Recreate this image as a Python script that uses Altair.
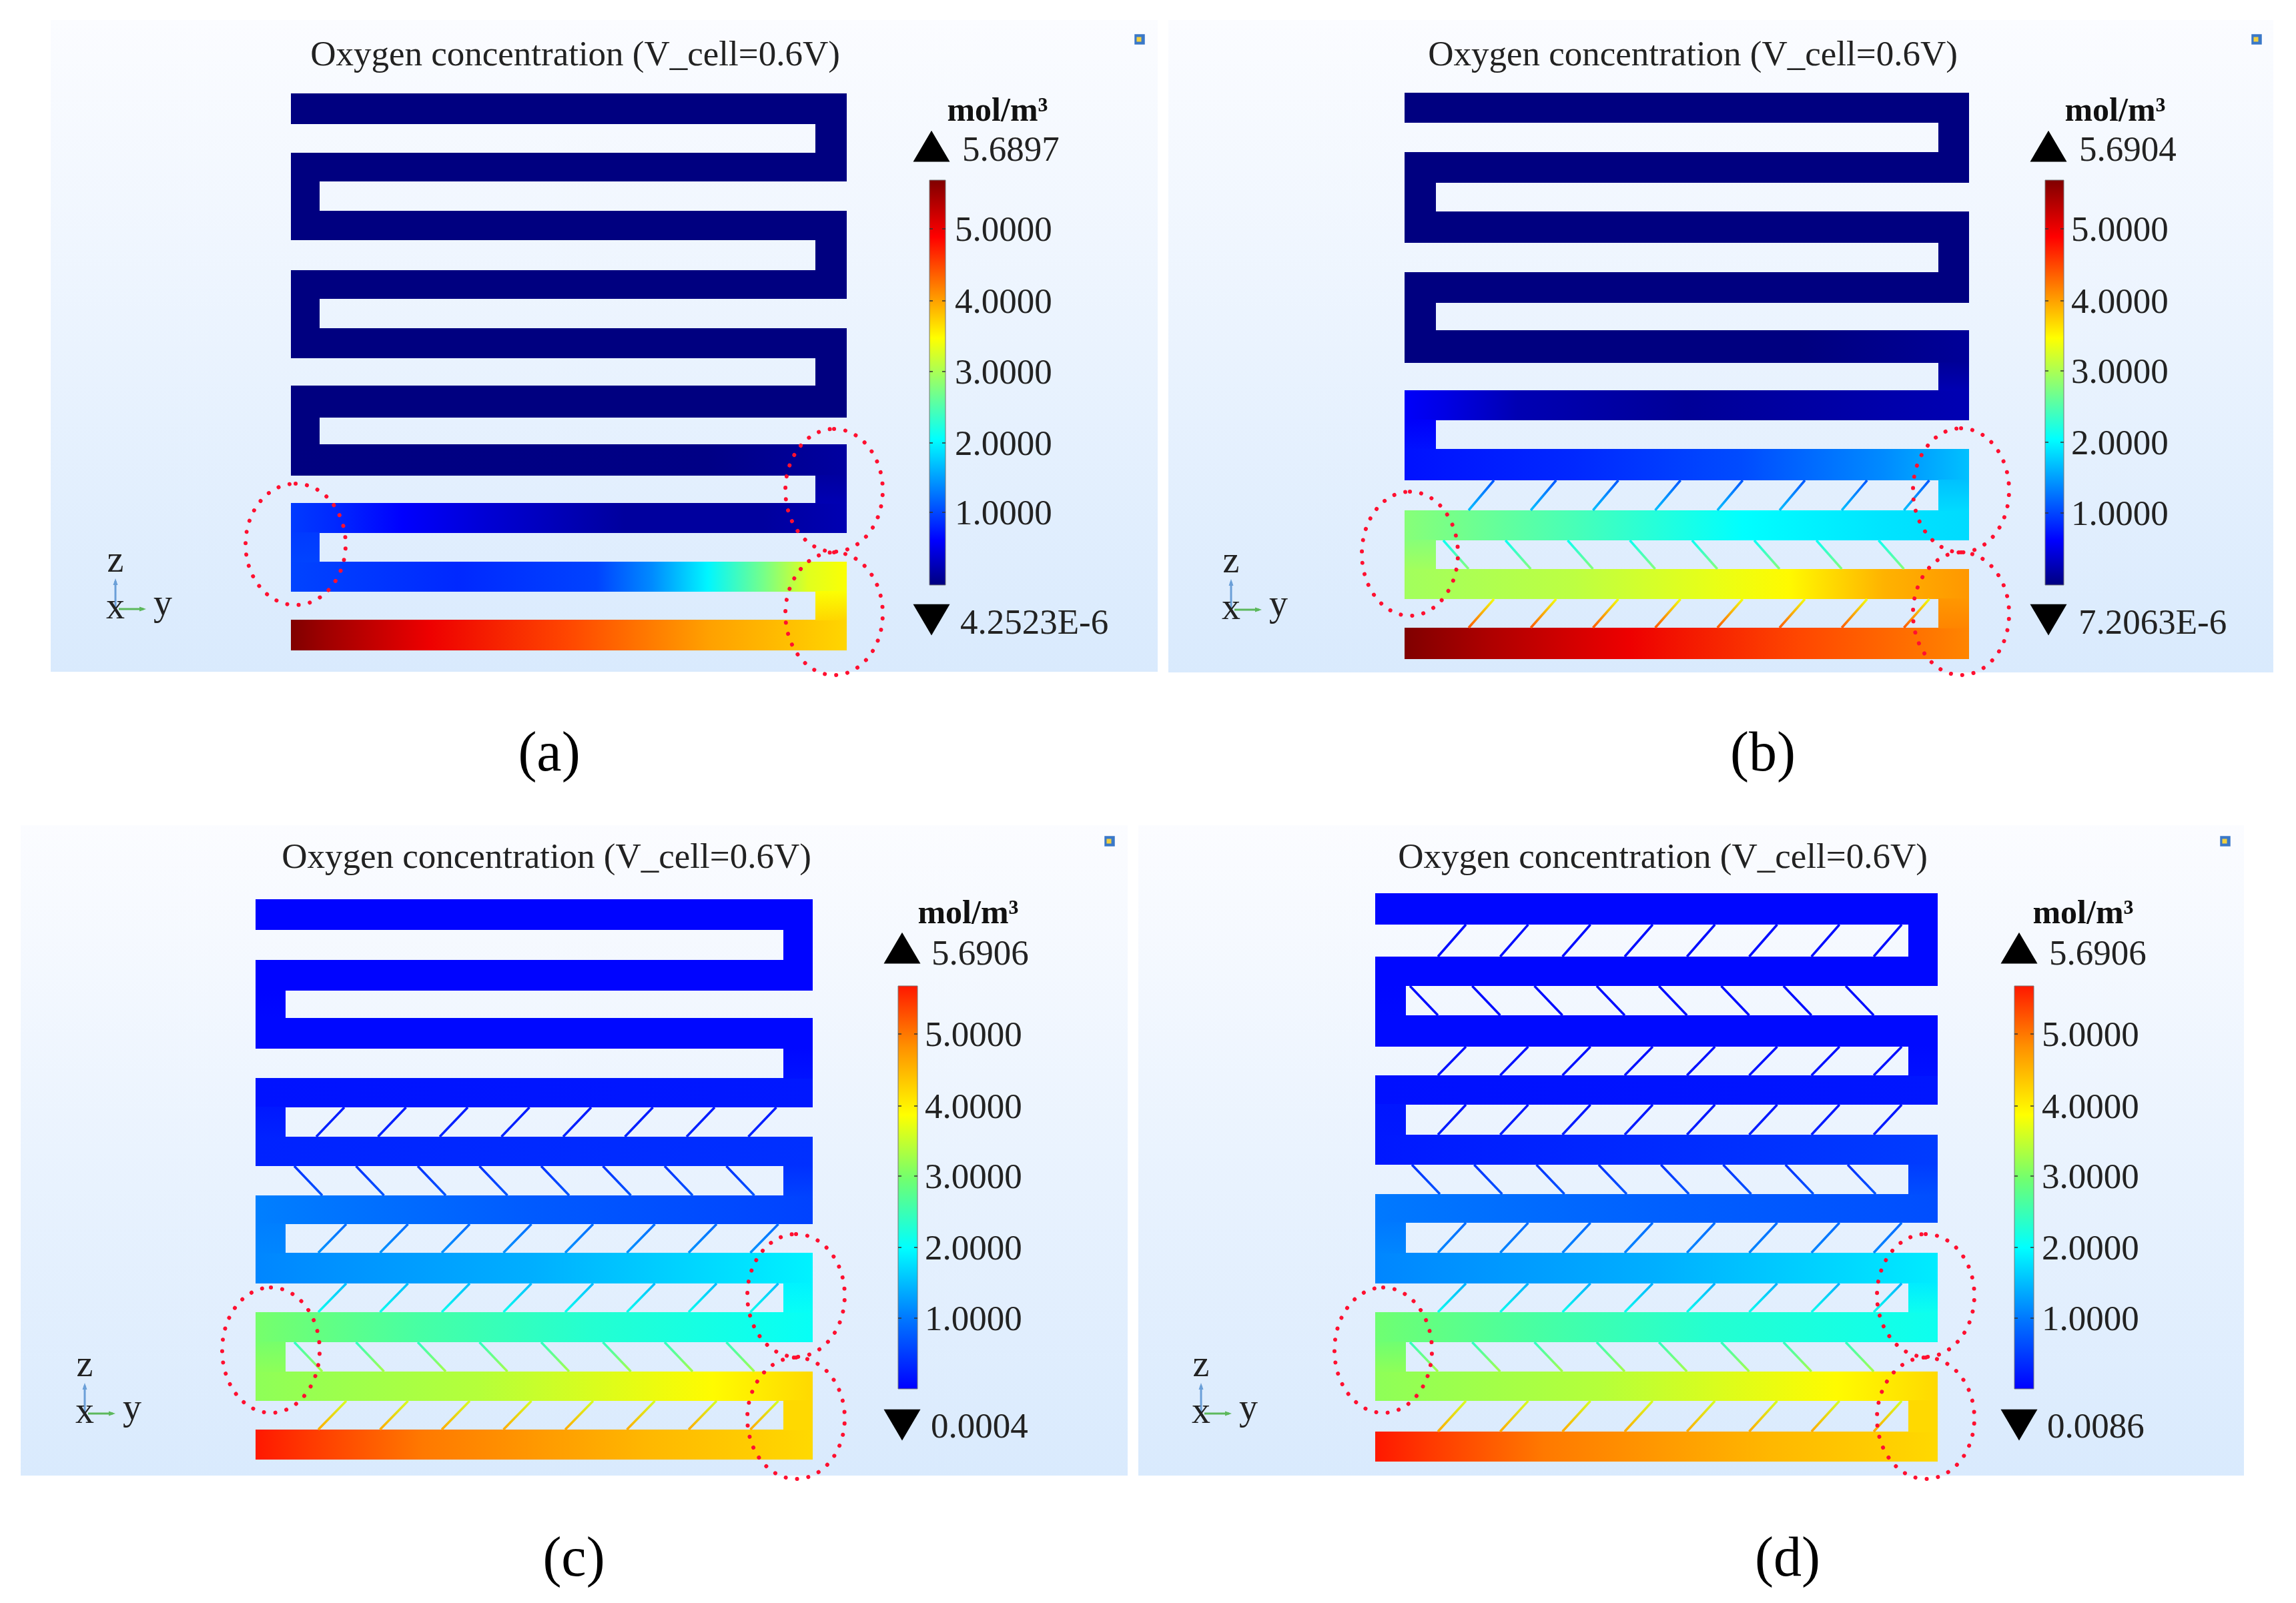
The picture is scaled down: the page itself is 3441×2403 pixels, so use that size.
import altair as alt
import numpy as np
import pandas as pd

# ---------- colormaps: (fraction of full scale, colour) ----------
JET = [(0, "#000080"), (0.11, "#0000ff"), (0.36, "#00ffff"), (0.61, "#ffff00"), (0.86, "#ff0000"), (1, "#800000")]
RAINBOW = [(0, "#0000ff"), (0.175, "#0078ff"), (0.35, "#00ffff"), (0.52, "#70ff70"), (0.68, "#ffff00"), (0.85, "#ff9000"), (1, "#ff1800")]
VMAX = 5.69

def hex2rgb(h):
    return [int(h[i:i + 2], 16) for i in (1, 3, 5)]

def cmap_color(cmap, v):
    t = max(0, min(1, v / VMAX))
    fr = [c[0] for c in cmap]
    rgb = np.array([hex2rgb(c[1]) for c in cmap], dtype=float)
    out = [int(round(np.interp(t, fr, rgb[:, k]))) for k in range(3)]
    return "#%02x%02x%02x" % tuple(out)

# ---------- geometry of the four panels, in picture units ----------
a_rows = [(140, 186), (229, 272), (316, 360), (405, 448), (492, 537), (578, 626), (666, 713), (754, 799), (842, 887), (929, 975)]
b_rows = [(139, 184), (228, 274), (317, 364), (408, 454), (495, 544), (585, 630), (673, 720), (765, 810), (853, 898), (941, 988)]
c_rows = [(1348, 1394), (1439, 1485), (1526, 1572), (1616, 1660), (1704, 1748), (1792, 1835), (1878, 1924), (1967, 2012), (2056, 2100), (2143, 2188)]
d_rows = [(1339, 1386), (1434, 1478), (1522, 1569), (1612, 1656), (1701, 1746), (1790, 1833), (1878, 1924), (1967, 2012), (2056, 2100), (2146, 2191)]

# ---------- oxygen concentration along each channel: (position along y, value) ----------
a_conc = [
    [(0, 0.0), (1, 0.0)], [(0, 0.0), (1, 0.0)], [(0, 0.0), (1, 0.0)], [(0, 0.0), (1, 0.0)], [(0, 0.0), (1, 0.0)],
    [(0, 0.0), (1, 0.0)],
    [(0, 0.0), (0.75, 0.03), (1, 0.16)],
    [(0, 0.95), (0.08, 0.85), (0.2, 0.62), (0.35, 0.42), (0.6, 0.15), (0.85, 0.15), (1, 0.25)],
    [(0, 1.0), (0.3, 0.85), (0.55, 1.0), (0.65, 1.4), (0.75, 2.0), (0.85, 2.7), (0.93, 3.3), (1, 3.45)],
    [(0, 5.69), (0.06, 5.5), (0.25, 5.0), (0.5, 4.5), (0.75, 4.0), (1, 3.7)],
]
a_conn = [(0, 0), (0, 0), (0, 0), (0, 0), (0, 0), (0, 0), (0.16, 0.25), (0.95, 1.0), (3.45, 3.7)]

b_conc = [
    [(0, 0.0), (1, 0.0)], [(0, 0.0), (1, 0.0)], [(0, 0.0), (1, 0.0)], [(0, 0.0), (1, 0.0)],
    [(0, 0.0), (0.7, 0.0), (1, 0.12)],
    [(0, 0.6), (0.07, 0.5), (0.2, 0.25), (0.5, 0.12), (1, 0.25)],
    [(0, 0.72), (0.3, 0.85), (0.6, 1.05), (0.85, 1.4), (1, 1.7)],
    [(0, 2.8), (0.3, 2.45), (0.6, 2.05), (0.85, 1.9), (1, 1.85)],
    [(0, 2.95), (0.3, 3.1), (0.55, 3.35), (0.68, 3.5), (0.85, 3.9), (1, 4.05)],
    [(0, 5.69), (0.15, 5.4), (0.4, 5.0), (0.7, 4.5), (1, 4.15)],
]
b_conn = [(0, 0), (0, 0), (0, 0), (0, 0), (0.12, 0.25), (0.6, 0.72), (1.7, 1.85), (2.8, 2.95), (4.05, 4.15)]

c_conc = [
    [(0, 0.03), (1, 0.03)], [(0, 0.03), (1, 0.03)], [(0, 0.07), (1, 0.07)],
    [(0, 0.15), (1, 0.2)],
    [(0, 0.28), (1, 0.4)],
    [(0, 1.05), (0.5, 0.75), (1, 0.55)],
    [(0, 1.1), (0.5, 1.4), (1, 1.9)],
    [(0, 3.0), (0.3, 2.6), (0.6, 2.3), (1, 2.05)],
    [(0, 3.15), (0.4, 3.4), (0.82, 3.9), (1, 4.2)],
    [(0, 5.69), (0.1, 5.45), (0.3, 5.0), (0.7, 4.5), (1, 4.2)],
]
c_conn = [(0.03, 0.03), (0.03, 0.07), (0.07, 0.15), (0.2, 0.28), (0.4, 0.55), (1.05, 1.1), (1.9, 2.05), (3.0, 3.15), (4.2, 4.2)]

d_conc = [
    [(0, 0.06), (1, 0.06)], [(0, 0.06), (1, 0.06)], [(0, 0.08), (1, 0.08)],
    [(0, 0.13), (1, 0.18)],
    [(0, 0.2), (1, 0.5)],
    [(0, 1.0), (0.5, 0.8), (1, 0.65)],
    [(0, 1.1), (0.5, 1.4), (1, 1.85)],
    [(0, 2.95), (0.3, 2.6), (0.6, 2.3), (1, 2.1)],
    [(0, 3.15), (0.4, 3.4), (0.82, 3.9), (1, 4.2)],
    [(0, 5.69), (0.1, 5.45), (0.3, 5.0), (0.7, 4.5), (1, 4.2)],
]
d_conn = [(0.06, 0.06), (0.06, 0.08), (0.08, 0.13), (0.18, 0.2), (0.5, 0.65), (1.0, 1.1), (1.85, 2.1), (2.95, 3.15), (4.2, 4.2)]

# bridges: (gap below row n, lean, first x, value at top, value at bottom)
b_bridges = [(6, "/", 2201, 1.1, 1.7), (7, "\\", 2163, 2.1, 2.8), (8, "/", 2201, 3.4, 4.4)]
c_bridges = [(3, "/", 474, 0.2, 0.3), (4, "\\", 441, 0.4, 0.7), (5, "/", 477, 0.9, 1.2), (6, "/", 477, 1.5, 2.1),
             (7, "\\", 441, 2.4, 3.3), (8, "/", 477, 3.6, 4.6)]
d_bridges = [(0, "/", 2155, 0.1, 0.1), (1, "\\", 2113, 0.1, 0.1), (2, "/", 2155, 0.1, 0.15), (3, "/", 2155, 0.15, 0.25),
             (4, "\\", 2116, 0.4, 0.7), (5, "/", 2155, 0.9, 1.1), (6, "/", 2155, 1.4, 2.1), (7, "\\", 2113, 2.4, 3.3),
             (8, "/", 2155, 3.6, 4.6)]

tick_labels = ["5.0000", "4.0000", "3.0000", "2.0000", "1.0000"]
chart_title = "Oxygen concentration (V_cell=0.6V)"

PANELS = [
    dict(name="(a)", name_xy=(823, 1130), bg=(76, 1735, 30, 1007), title_xy=(862, 82), logo=(1708, 59),
         rows=a_rows, conc=a_conc, conn=a_conn, bridges=[], xs=(436, 479, 1222, 1269), spacing=93, lean=38, cmap=JET,
         bar=(1393, 1417, 270, 877), ticks_y=[345, 453, 559, 666, 770], tick_x=1431,
         tri_x=1396, up_y=219, down_y=929, top="5.6897", top_xy=(1442, 225), bot="4.2523E-6", bot_xy=(1439, 934),
         unit_xy=(1495, 166), axes=(173, 913), circles=[(443, 816, 75, 91), (1250, 735, 73, 92), (1250, 920, 73, 92)]),
    dict(name="(b)", name_xy=(2642, 1130), bg=(1751, 3407, 30, 1008), title_xy=(2537, 82), logo=(3382, 59),
         rows=b_rows, conc=b_conc, conn=b_conn, bridges=b_bridges, xs=(2105, 2152, 2905, 2951), spacing=93.2, lean=38, cmap=JET,
         bar=(3065, 3093, 270, 877), ticks_y=[345, 453, 558, 665, 771], tick_x=3104,
         tri_x=3070, up_y=219, down_y=929, top="5.6904", top_xy=(3116, 225), bot="7.2063E-6", bot_xy=(3115, 934),
         unit_xy=(3170, 166), axes=(1845, 914), circles=[(2113, 830, 72, 93), (2939, 735, 72, 93), (2939, 920, 72, 92)]),
    dict(name="(c)", name_xy=(860, 2337), bg=(31, 1690, 1237, 2212), title_xy=(819, 1285), logo=(1663, 1261),
         rows=c_rows, conc=c_conc, conn=c_conn, bridges=c_bridges, xs=(383, 428, 1174, 1218), spacing=92.5, lean=42, cmap=RAINBOW,
         bar=(1346, 1375, 1478, 2082), ticks_y=[1552, 1660, 1765, 1872, 1978], tick_x=1386,
         tri_x=1352, up_y=1421, down_y=2136, top="5.6906", top_xy=(1396, 1430), bot="0.0004", bot_xy=(1395, 2139),
         unit_xy=(1451, 1369), axes=(127, 2119), circles=[(406, 2024, 73, 94), (1193, 1942, 73, 92), (1193, 2126, 73, 91)]),
    dict(name="(d)", name_xy=(2679, 2337), bg=(1706, 3363, 1237, 2212), title_xy=(2492, 1285), logo=(3335, 1261),
         rows=d_rows, conc=d_conc, conn=d_conn, bridges=d_bridges, xs=(2061, 2107, 2860, 2904), spacing=93.3, lean=42, cmap=RAINBOW,
         bar=(3019, 3048, 1478, 2082), ticks_y=[1552, 1660, 1765, 1872, 1978], tick_x=3060,
         tri_x=3026, up_y=1421, down_y=2136, top="5.6906", top_xy=(3071, 1430), bot="0.0086", bot_xy=(3068, 2139),
         unit_xy=(3122, 1369), axes=(1800, 2119), circles=[(2073, 2024, 73, 94), (2886, 1942, 73, 92), (2886, 2126, 73, 91)]),
]

# ---------- shared scales: picture units map 1:1 to pixels ----------
W, H = 3425, 2387
XS = alt.Scale(domain=[8, 8 + W], range=[0, W], zero=False, nice=False)
YS = alt.Scale(domain=[8, 8 + H], range=[0, H], zero=False, nice=False)
xe = alt.X("x:Q", scale=XS, axis=None)
ye = alt.Y("y:Q", scale=YS, axis=None)
layers = []

HORIZ = dict(x1=0, x2=1, y1=0, y2=0)
VERT = dict(x1=0, x2=0, y1=0, y2=1)

def gradient(stops, direction):
    return alt.Gradient(gradient="linear", stops=[alt.GradientStop(offset=float(o), color=c) for o, c in stops], **direction)

def rect(x0, x1, y0, y1, color, **kw):
    d = pd.DataFrame({"x": [x0], "x2": [x1], "y": [y0], "y2": [y1]})
    layers.append(alt.Chart(d).mark_rect(color=color, **kw).encode(x=xe, x2="x2:Q", y=ye, y2="y2:Q"))

def text(x, y, s, size=53, align="left", weight="normal", color="#222222"):
    d = pd.DataFrame({"x": [x], "y": [y], "t": [s]})
    layers.append(alt.Chart(d).mark_text(font="Liberation Serif", fontSize=size, align=align, baseline="middle",
                                         fontWeight=weight, color=color).encode(x=xe, y=ye, text="t:N"))

def rule(x0, y0, x1, y1, color, width):
    d = pd.DataFrame({"x": [x0], "x2": [x1], "y": [y0], "y2": [y1]})
    layers.append(alt.Chart(d).mark_rule(stroke=color, strokeWidth=width).encode(x=xe, x2="x2:Q", y=ye, y2="y2:Q"))

def symbol(x, y, shape, size, color, **kw):
    d = pd.DataFrame({"x": [x], "y": [y]})
    layers.append(alt.Chart(d).mark_point(shape=shape, size=size, **kw, color=color).encode(x=xe, y=ye))

TRI_UP = "M-1 .85 L1 .85 L0 -.85 Z"
TRI_DOWN = "M-1 -.85 L1 -.85 L0 .85 Z"
HEAD_R = "M-1 -.7 L1 0 L-1 .7 Z"
HEAD_U = "M-.7 1 L.7 1 L0 -1 Z"

for p in PANELS:
    cm = p["cmap"]
    # background wash
    x0, x1, y0, y1 = p["bg"]
    rect(x0, x1, y0, y1, gradient([(0, "#fbfcff"), (1, "#d9eafd")], VERT))
    # channels
    xl, xil, xir, xr = p["xs"]
    for (top, bot), stops in zip(p["rows"], p["conc"]):
        rect(xl, xr, top, bot, gradient([(o, cmap_color(cm, v)) for o, v in stops], HORIZ))
    for i, (vt, vb) in enumerate(p["conn"]):
        a, b = (xir, xr) if i % 2 == 0 else (xl, xil)
        rect(a, b, p["rows"][i][1] - 1, p["rows"][i + 1][0] + 1,
             gradient([(0, cmap_color(cm, vt)), (1, cmap_color(cm, vb))], VERT))
    # slanted bridges
    for gap, lean, first, vt, vb in p["bridges"]:
        top = p["rows"][gap][1]
        bot = p["rows"][gap + 1][0]
        g = gradient([(0, cmap_color(cm, vt)), (1, cmap_color(cm, vb))], VERT)
        for k in range(8):
            xa = first + k * p["spacing"]
            if lean == "/":
                rule(xa + p["lean"], top, xa, bot, g, 3.5)
            else:
                rule(xa, top, xa + p["lean"], bot, g, 3.5)
    # colour bar
    bx0, bx1, by0, by1 = p["bar"]
    rect(bx0, bx1, by0, by1, gradient([(1 - f, c) for f, c in reversed(cm)], VERT), stroke="#777777", strokeWidth=1)
    for yt, lab in zip(p["ticks_y"], tick_labels):
        rule(bx0, yt - 2, bx0 + 5, yt - 2, "#333333", 1.5)
        rule(bx1 - 5, yt - 2, bx1, yt - 2, "#333333", 1.5)
        text(p["tick_x"], yt, lab)
    # min / max markers
    symbol(p["tri_x"], p["up_y"], TRI_UP, 3025, "#000000", filled=True, opacity=1)
    symbol(p["tri_x"], p["down_y"], TRI_DOWN, 3025, "#000000", filled=True, opacity=1)
    text(p["top_xy"][0], p["top_xy"][1], p["top"])
    text(p["bot_xy"][0], p["bot_xy"][1], p["bot"])
    text(p["unit_xy"][0], p["unit_xy"][1], "mol/m³", size=50, align="center", weight="bold", color="#111111")
    # titles
    text(p["title_xy"][0], p["title_xy"][1], chart_title, align="center")
    text(p["name_xy"][0], p["name_xy"][1], p["name"], size=84, align="center", color="#000000")
    # axis triad
    ax, ay = p["axes"]
    rule(ax, ay, ax, ay - 42, "#6a9fd8", 3)
    symbol(ax, ay - 41, HEAD_U, 100, "#6a9fd8", filled=True, opacity=1)
    rule(ax + 5, ay, ax + 42, ay, "#5cb85c", 3)
    symbol(ax + 41, ay, HEAD_R, 100, "#5cb85c", filled=True, opacity=1)
    text(ax, ay - 73, "z", size=56, align="center")
    text(ax, ay - 3, "x", size=56, align="center")
    text(ax + 71, ay - 8, "y", size=56, align="center")
    # logo
    symbol(p["logo"][0], p["logo"][1], "square", 240, "#3a78c8", filled=True, opacity=1)
    symbol(p["logo"][0] - 1, p["logo"][1], "square", 50, "#f2d040", filled=True, opacity=1)

# dotted red ellipses over everything
for p in PANELS:
    for cx, cy, rx, ry in p["circles"]:
        k = rx / ry
        shape = f"M0 -1 A{k:.3f} 1 0 1 1 0 1 A{k:.3f} 1 0 1 1 0 -1 Z"
        symbol(cx, cy, shape, (2 * ry) ** 2, "#ff1030", filled=False, opacity=1, strokeWidth=6,
               strokeDash=[0.1, 17], strokeCap="round")

chart = alt.layer(*layers).properties(width=W, height=H, padding=0, background="white").configure_view(stroke=None)
chart.save("out.html", embed_options={"renderer": "svg", "actions": False})
